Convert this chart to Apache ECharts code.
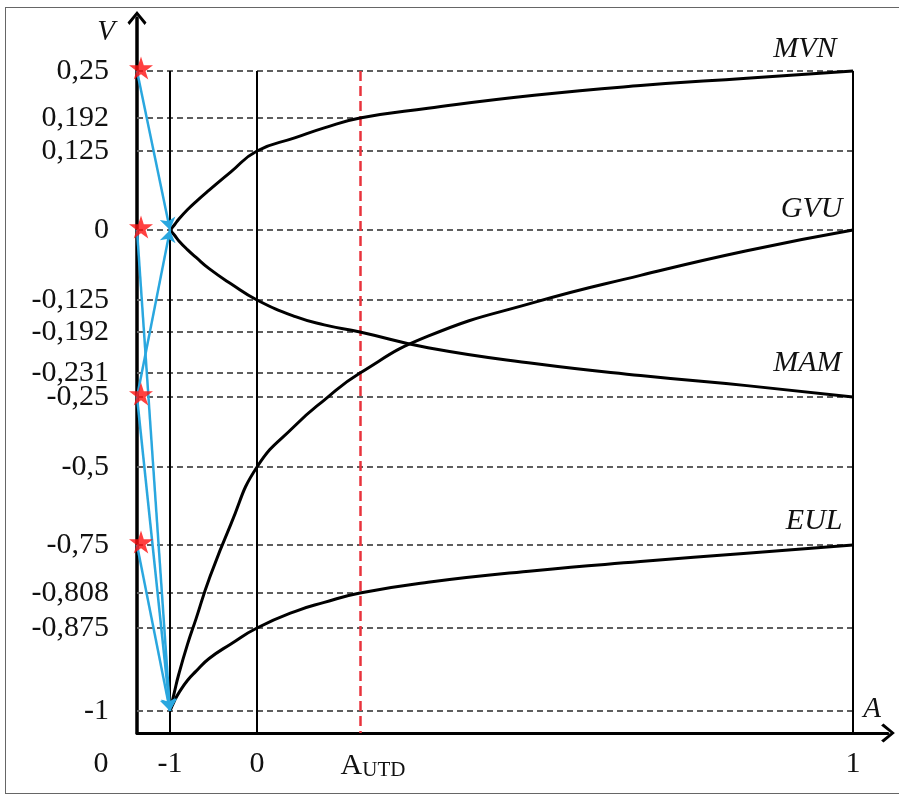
<!DOCTYPE html>
<html>
<head>
<meta charset="utf-8">
<script src="https://cdn.jsdelivr.net/npm/echarts@6/dist/echarts.min.js"></script>
<style>
html,body{margin:0;padding:0;background:#fff;overflow:hidden;}
#frame{position:absolute;left:5px;top:7px;width:920px;height:787px;border:1.5px solid #666;box-sizing:border-box;}
#chart{position:absolute;left:0;top:0;width:899px;height:796px;}
</style>
</head>
<body>
<div id="frame"></div>
<div id="chart"></div>
<script>
// ---------------- data ----------------
const A_UTD = 0.536;
const aTickValues = [-1, 0, A_UTD, 1];
const aTickLabels = ['-1', '0', 'AUTD', '1'];
const originLabel = '0';
const vTickValues = [0.25, 0.192, 0.125, 0, -0.125, -0.192, -0.231, -0.25, -0.5, -0.75, -0.808, -0.875, -1];
const vTickLabels = ['0,25', '0,192', '0,125', '0', '-0,125', '-0,192', '-0,231', '-0,25', '-0,5', '-0,75', '-0,808', '-0,875', '-1'];
const vShortGuides = [0.192, -0.192, -0.231, -0.808];   // guides that stop at A_UTD
const vFrameTop = 0.25;                                 // verticals start at this level

const curveNames = ['MVN', 'GVU', 'MAM', 'EUL'];
const curveA = [-1, -0.95, -0.9, -0.8, -0.7, -0.55, -0.3, 0, 0.2, 0.35, A_UTD, 0.6, 0.7, 0.8, 0.9, 1];
const mvnV = [0, 0.008, 0.017, 0.032, 0.045, 0.063, 0.092, 0.125, 0.152, 0.172, 0.192, 0.204, 0.220, 0.232, 0.241, 0.25];
const gvuV = [-1, -0.972, -0.945, -0.900, -0.857, -0.791, -0.683, -0.5, -0.351, -0.261, -0.231, -0.196, -0.130, -0.081, -0.037, 0];
const mamV = [0, -0.009, -0.019, -0.035, -0.049, -0.069, -0.096, -0.125, -0.160, -0.177, -0.192, -0.207, -0.222, -0.233, -0.241, -0.25];
const eulV = [-1, -0.985, -0.973, -0.954, -0.940, -0.921, -0.899, -0.875, -0.843, -0.826, -0.808, -0.795, -0.781, -0.770, -0.760, -0.75];

const starV = [0.25, 0, -0.25, -0.75];                  // red stars on the V axis
const transFromV = [0.25, -0.25, 0, -0.25, -0.75];      // blue arrows: from V on the axis ...
const transToA = [-1, -1, -1, -1, -1];                  // ... to (A, V)
const transToV = [0, 0, -1, -1, -1];

// ---------------- schematic (non-uniform) axis layout ----------------
const LAYOUT = {
  grid: {left: 137, top: 18, width: 751, height: 715},
  xStops: [[-1, 33], [0, 120], [A_UTD, 223], [1, 716]],
  yStops: [[0.25, 662], [0.192, 615], [0.125, 582], [0, 503], [-0.125, 433], [-0.192, 401],
           [-0.231, 360], [-0.25, 336], [-0.5, 266], [-0.75, 188], [-0.808, 140], [-0.875, 105], [-1, 22]],
  labelOffset: {MVN: [-16, -22], GVU: [-10, -21], MAM: [-11, -34], EUL: [-10, -24]}
};
function makeScale(stops) {
  const s = stops.slice().sort((p, q) => p[0] - q[0]);
  return function (v) {
    for (let i = 0; i < s.length - 1; i++) {
      if (v <= s[i + 1][0] || i === s.length - 2) {
        const [v0, p0] = s[i], [v1, p1] = s[i + 1];
        return p0 + (p1 - p0) * (v - v0) / (v1 - v0);
      }
    }
  };
}
const sx = makeScale(LAYOUT.xStops);
const sy = makeScale(LAYOUT.yStops);
const AXIS_X = 0;   // the V axis itself
const AXIS_Y = 0;   // the A axis itself

const FONT = "'Liberation Serif', 'Times New Roman', serif";
const CHEVRON = 'path://M10,0 L20,12 L18,14.5 L10,4.5 L2,14.5 L0,12 Z';
const STAR = 'path://M50,0 L61,35 L98,35 L68,57 L79,91 L50,70 L21,91 L32,57 L2,35 L39,35 Z';

function nearestLabel(values, labels, scale, val) {
  for (let i = 0; i < values.length; i++) {
    if (Math.abs(scale(values[i]) - val) < 0.5) return labels[i];
  }
  return null;
}

// ---------------- series ----------------
const series = [];

// dashed guide lines
series.push({
  type: 'lines', coordinateSystem: 'cartesian2d', silent: true, z: 1,
  lineStyle: {color: '#5e5e5e', width: 2, type: [6, 4], opacity: 1},
  data: vTickValues.map(v => ({coords: [[AXIS_X, sy(v)], [sx(vShortGuides.includes(v) ? A_UTD : 1), sy(v)]]}))
});
// black verticals at A = -1, 0, 1
series.push({
  type: 'lines', coordinateSystem: 'cartesian2d', silent: true, z: 2,
  lineStyle: {color: '#000', width: 2, opacity: 1},
  data: [-1, 0, 1].map(a => ({coords: [[sx(a), sy(vFrameTop)], [sx(a), AXIS_Y]]}))
});
// red dashed vertical at A_UTD
series.push({
  type: 'lines', coordinateSystem: 'cartesian2d', silent: true, z: 2,
  lineStyle: {color: '#e8333c', width: 2.5, type: [10, 5], opacity: 1},
  data: [{coords: [[sx(A_UTD), sy(vFrameTop)], [sx(A_UTD), AXIS_Y]]}]
});
// curves
[mvnV, gvuV, mamV, eulV].forEach((vals, k) => {
  const name = curveNames[k];
  const pts = curveA.map((a, i) => [sx(a), sy(vals[i])]);
  const data = pts.map((p, i) => i === pts.length - 1 ? {
    value: p,
    label: {show: true, formatter: name, position: 'left', distance: 0,
            offset: LAYOUT.labelOffset[name], fontFamily: FONT, fontStyle: 'italic',
            fontSize: 30, color: '#111'}
  } : p);
  series.push({
    type: 'line', name, data, smooth: 0.5,
    showSymbol: true, symbol: 'circle', symbolSize: 1, itemStyle: {color: '#000'},
    lineStyle: {color: '#000', width: 3}, z: 3, silent: true, clip: false
  });
});
// blue arrows
series.push({
  type: 'lines', coordinateSystem: 'cartesian2d', silent: true, z: 4,
  symbol: ['none', 'arrow'], symbolSize: 12,
  lineStyle: {color: '#2aa7df', width: 2.5, opacity: 1},
  data: transFromV.map((v, i) => ({coords: [[AXIS_X, sy(v)], [sx(transToA[i]), sy(transToV[i])]]}))
});
// red stars
series.push({
  type: 'scatter', silent: true, z: 5, clip: false,
  symbol: STAR, symbolSize: [24, 23], symbolOffset: [4, -3],
  itemStyle: {color: '#ff1010'},
  data: starV.map(v => [AXIS_X, sy(v)])
});

const option = {
  animation: false,
  backgroundColor: 'transparent',
  grid: LAYOUT.grid,
  xAxis: {
    type: 'value', min: 0, max: LAYOUT.grid.width,
    name: 'A', nameLocation: 'end', nameGap: -16,
    nameTextStyle: {fontFamily: FONT, fontStyle: 'italic', fontSize: 29, color: '#111',
                    align: 'center', verticalAlign: 'bottom', padding: [0, 0, 9, 0]},
    axisLine: {show: true, lineStyle: {color: '#000', width: 3}, symbol: ['none', CHEVRON], symbolSize: [19, 15]},
    axisTick: {show: false}, splitLine: {show: false},
    axisLabel: {
      customValues: [AXIS_X].concat(aTickValues.map(sx)),
      showMinLabel: true, showMaxLabel: true,
      margin: 16, fontFamily: FONT, fontSize: 30, color: '#111',
      formatter: function (val) {
        if (Math.abs(val - AXIS_X) < 0.5) return '{o|' + originLabel + '}';
        const t = nearestLabel(aTickValues, aTickLabels, sx, val);
        if (t === 'AUTD') return '{a|A}{s|UTD}';
        return t === null ? '' : t;
      },
      rich: {
        o: {fontFamily: FONT, fontSize: 30, color: '#111', padding: [0, 72, 0, 0]},
        a: {fontFamily: FONT, fontSize: 30, color: '#111', padding: [0, 0, 0, 26], verticalAlign: 'bottom', lineHeight: 32},
        s: {fontFamily: FONT, fontSize: 21, color: '#111', verticalAlign: 'bottom', lineHeight: 30}
      }
    }
  },
  yAxis: {
    type: 'value', min: 0, max: LAYOUT.grid.height,
    name: 'V', nameLocation: 'end', nameGap: -14,
    nameTextStyle: {fontFamily: FONT, fontStyle: 'italic', fontSize: 29, color: '#111',
                    align: 'right', verticalAlign: 'middle', padding: [0, 22, 0, 0]},
    axisLine: {show: true, lineStyle: {color: '#000', width: 3.5}, symbol: ['none', CHEVRON], symbolSize: [19, 15]},
    axisTick: {show: false}, splitLine: {show: false},
    axisLabel: {
      customValues: vTickValues.map(sy),
      showMinLabel: true, showMaxLabel: true,
      margin: 28, fontFamily: FONT, fontSize: 30, color: '#111',
      formatter: function (val) {
        const t = nearestLabel(vTickValues, vTickLabels, sy, val);
        return t === null ? '' : t;
      }
    }
  },
  series
};

const chart = echarts.init(document.getElementById('chart'), null, {renderer: 'canvas'});
chart.setOption(option);
</script>
</body>
</html>
